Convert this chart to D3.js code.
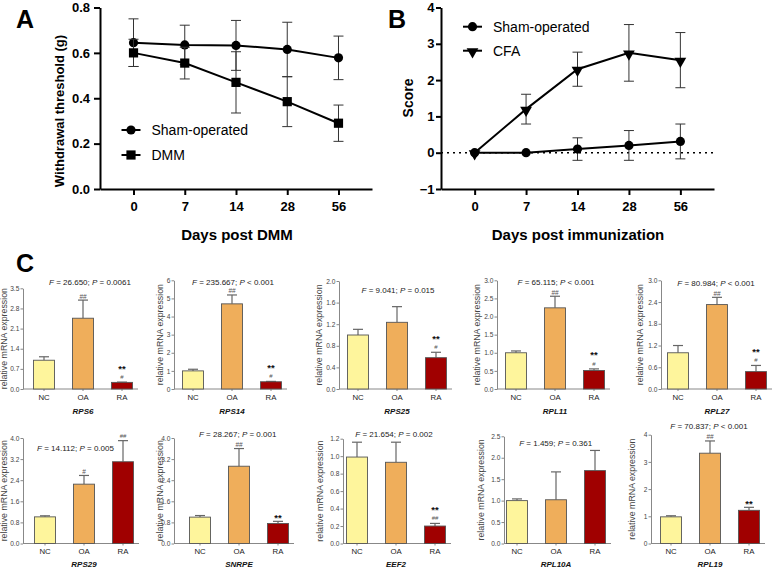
<!DOCTYPE html>
<html><head><meta charset="utf-8">
<script src="https://cdn.jsdelivr.net/npm/d3@7"></script>
<style>body{margin:0;background:#fff} svg{display:block;font-family:"Liberation Sans",Arial,sans-serif}</style>
</head><body><svg id="c" width="777" height="569"></svg>
<script>
// ---------- Panel A ----------
const days = ["0","7","14","28","56"];
const shamA = [0.645,0.635,0.633,0.615,0.578];
const shamAErr = [0.105,0.087,0.11,0.12,0.096];
const dmmA = [0.600,0.555,0.470,0.385,0.290];
const dmmAErr = [0.06,0.07,0.135,0.11,0.08];
const yTicksA = [0,0.2,0.4,0.6,0.8];
// ---------- Panel B ----------
const shamB = [0,0,0.1,0.2,0.31];
const shamBErr = [0,0,0.31,0.41,0.48];
const cfaB = [0,1.2,2.3,2.75,2.55];
const cfaBErr = [0,0.41,0.47,0.78,0.76];
const yTicksB = [-1,0,1,2,3,4];
// ---------- Panel C ----------
const groups = ["NC","OA","RA"];
const genes = ["RPS6","RPS14","RPS25","RPL11","RPL27","RPS29","SNRPE","EEF2","RPL10A","RPL19"];
const ncMean = [1.0,1.0,1.0,1.0,1.0,1.01,1.0,0.99,1.0,0.98];
const oaMean = [2.46,4.70,1.235,2.24,2.33,2.25,2.93,0.93,1.02,3.32];
const raMean = [0.23,0.40,0.58,0.51,0.48,3.10,0.76,0.20,1.70,1.22];
const ncErr = [0.12,0.09,0.105,0.05,0.2,0.04,0.06,0.17,0.04,0.04];
const oaErr = [0.63,0.49,0.29,0.32,0.2,0.33,0.67,0.23,0.65,0.45];
const raErr = [0.01,0.02,0.1,0.045,0.17,0.8,0.08,0.03,0.47,0.11];
const yMax = [3.5,6,2.0,3.0,3.0,4.0,4.0,1.2,2.5,4];
const yStep = [0.7,1,0.4,0.5,0.6,0.8,0.8,0.2,0.5,1];
const tickDec = [1,0,1,1,1,1,1,1,1,0];
const fStat = ["26.650","235.667","9.041","65.115","80.984","14.112","28.267","21.654","1.459","70.837"];
const pStat = ["= 0.0061","< 0.001","= 0.015","< 0.001","< 0.001","= 0.005","= 0.001","= 0.002","= 0.361","< 0.001"];
const oaHash = ["##","##","","##","##","#","##","","","##"];
const raStar = ["**","**","**","**","**","","**","**","","**"];
const raHash = ["#","#","#","#","#","##","","##","",""];
const barColors = ["#FEF59C","#EFAE5B","#A00000"];

const svg = d3.select("#c");

// ---------- line panels ----------
function linePanel(o) {
  const g = svg.append("g");
  const x = d3.scalePoint().domain(days).range([o.x0, o.x1]).padding(0.654);
  const y = d3.scaleLinear().domain(o.domain).range([189, 7.5]);
  const axB = g.append("g").attr("transform","translate(0,189)")
    .call(d3.axisBottom(x).tickSize(6).tickSizeOuter(0).tickPadding(6.5));
  const axL = g.append("g").attr("transform",`translate(${o.x0},0)`)
    .call(d3.axisLeft(y).tickValues(o.ticks).tickFormat(o.fmt).tickSize(o.tick).tickSizeOuter(0).tickPadding(o.pad));
  [axB, axL].forEach(a => {
    a.select(".domain").attr("stroke","#000").attr("stroke-width",2);
    a.selectAll(".tick line").attr("stroke","#000").attr("stroke-width",2);
    a.selectAll(".tick text").attr("fill","#000").style("font-size","13px").style("font-weight","bold");
  });
  if (o.zeroLine) {
    g.append("line").attr("x1",o.x0).attr("x2",o.x1).attr("y1",y(0)).attr("y2",y(0))
      .attr("stroke","#000").attr("stroke-width",1.5).attr("stroke-dasharray","2,4");
  }
  o.series.forEach(s => {
    s.vals.forEach((v,i) => {
      const e = s.err[i]; if (!e) return;
      const cx = x(days[i]);
      g.append("line").attr("x1",cx).attr("x2",cx).attr("y1",y(v-e)).attr("y2",y(v+e)).attr("stroke","#333").attr("stroke-width",1);
      [v-e, v+e].forEach(t => g.append("line").attr("x1",cx-5).attr("x2",cx+5).attr("y1",y(t)).attr("y2",y(t)).attr("stroke","#333").attr("stroke-width",1));
    });
    g.append("path").datum(s.vals).attr("fill","none").attr("stroke","#000").attr("stroke-width",2)
      .attr("d", d3.line().x((d,i)=>x(days[i])).y(d=>y(d)));
    s.vals.forEach((v,i) => marker(g, s.shape, x(days[i]), y(v)));
  });
  o.series.forEach((s,k) => {
    const ly = o.legY + k*o.legDy;
    g.append("line").attr("x1",o.legX).attr("x2",o.legX+19).attr("y1",ly).attr("y2",ly).attr("stroke","#000").attr("stroke-width",2);
    marker(g, s.shape, o.legX+9.5, ly);
    g.append("text").attr("x",o.legX+30).attr("y",ly+5).style("font-size","14px").text(s.name);
  });
  g.append("text").attr("x",o.xTitleX).attr("y",240).attr("text-anchor","middle")
    .style("font-size","15px").style("font-weight","bold").text(o.xTitle);
  g.append("text").attr("transform",`translate(${o.yTitleX},${o.yTitleY}) rotate(-90)`).attr("text-anchor","middle")
    .style("font-size",o.yTitleSize).style("font-weight","bold").text(o.yTitle);
  g.append("text").attr("x",o.letterX).attr("y",28).style("font-size","25px").style("font-weight","bold").text(o.letter);
}
function marker(g, shape, cx, cy) {
  if (shape === "circle") g.append("circle").attr("cx",cx).attr("cy",cy).attr("r",4.6).attr("fill","#000");
  else if (shape === "square") g.append("rect").attr("x",cx-4.6).attr("y",cy-4.6).attr("width",9.2).attr("height",9.2).attr("fill","#000");
  else g.append("path").attr("transform",`translate(${cx},${cy+1}) rotate(180)`).attr("d", d3.symbol(d3.symbolTriangle, 60)()).attr("fill","#000");
}

linePanel({x0:100, x1:372, domain:[0,0.8], ticks:yTicksA, fmt:d3.format(".1f"), tick:6, pad:4,
  series:[{name:"Sham-operated", vals:shamA, err:shamAErr, shape:"circle"},
          {name:"DMM", vals:dmmA, err:dmmAErr, shape:"square"}],
  legX:121.5, legY:130, legDy:25, xTitle:"Days post DMM", xTitleX:237,
  yTitle:"Withdrawal threshold (g)", yTitleX:64, yTitleY:111, yTitleSize:"13px", letter:"A", letterX:16});
linePanel({x0:441, x1:714, domain:[-1,4], ticks:yTicksB, fmt:d3.format("d"), tick:5, pad:1.5, zeroLine:true,
  series:[{name:"Sham-operated", vals:shamB, err:shamBErr, shape:"circle"},
          {name:"CFA", vals:cfaB, err:cfaBErr, shape:"tri"}],
  legX:463, legY:26.7, legDy:24, xTitle:"Days post immunization", xTitleX:578,
  yTitle:"Score", yTitleX:412.5, yTitleY:98, yTitleSize:"14px", letter:"B", letterX:388});

svg.append("text").attr("x",16).attr("y",272).style("font-size","25px").style("font-weight","bold").text("C");

// ---------- bar panels ----------
const axisX = [23,174,339,497,661,23,174,343,504,651];
const firstOff = [21,19,19,19,17,22,26,14,13,20];
const plotTop = [288.3,280.3,281,280.3,280.3,438,438,438.7,436.3,434.7];
const yLabX = [5,161,320,478,640.7,5,161,320.7,482,632.7];
const fX = [90,233,398,556,716,75.5,237.7,394,555.7,709];
const fY = [285,285,293,285,285.5,450.5,436.5,436.5,446,428.5];

function barPanel(i) {
  const row = i < 5 ? 0 : 1;
  const ax = axisX[i], top = plotTop[i], bot = row ? 543.5 : 389;
  const c0 = ax + firstOff[i];
  const x = d3.scaleBand().domain(groups).range([c0-19.5, c0+97.5]).paddingInner(0.46).paddingOuter(0.23);
  const y = d3.scaleLinear().domain([0, yMax[i]]).range([bot, top]);
  const g = svg.append("g");
  const ticks = d3.range(0, yMax[i] + yStep[i]/2, yStep[i]);
  const ay = g.append("g").attr("transform",`translate(${ax},0)`)
    .call(d3.axisLeft(y).tickValues(ticks).tickFormat(d3.format(`.${tickDec[i]}f`)).tickSize(2.5).tickSizeOuter(0).tickPadding(1.2));
  ay.select(".domain").attr("stroke","#888");
  ay.selectAll(".tick line").attr("stroke","#888");
  ay.selectAll(".tick text").attr("fill","#444").style("font-size","6.6px");
  const axb = g.append("g").attr("transform",`translate(0,${bot})`)
    .call(d3.axisBottom(x).tickSize(2).tickSizeOuter(0).tickPadding(3));
  axb.select(".domain").remove();
  axb.selectAll(".tick line").attr("stroke","#888");
  axb.selectAll(".tick text").attr("fill","#222").style("font-size","7.8px");
  g.append("line").attr("x1",ax).attr("x2",c0+2*39+16).attr("y1",bot).attr("y2",bot).attr("stroke","#888");

  const means = [ncMean[i], oaMean[i], raMean[i]];
  const errs = [ncErr[i], oaErr[i], raErr[i]];
  groups.forEach((gr, j) => {
    const v = means[j], e = errs[j];
    const cx = x(gr) + x.bandwidth()/2;
    g.append("line").attr("x1",cx).attr("x2",cx).attr("y1",y(v)).attr("y2",y(v+e)).attr("stroke","#666").attr("stroke-width",1.2);
    g.append("line").attr("x1",cx-5).attr("x2",cx+5).attr("y1",y(v+e)).attr("y2",y(v+e)).attr("stroke","#666").attr("stroke-width",1.2);
    g.append("rect").attr("x",x(gr)).attr("y",y(v)).attr("width",x.bandwidth()).attr("height",y(0)-y(v))
      .attr("fill",barColors[j]).attr("stroke","#555").attr("stroke-width",0.9);
    const capY = y(v+e);
    if (j === 1 && oaHash[i]) {
      g.append("text").attr("x",cx).attr("y",capY-1.5).attr("text-anchor","middle").attr("fill","#555").style("font-size","6.5px").text(oaHash[i]);
    }
    if (j === 2) {
      if (raHash[i]) g.append("text").attr("x",cx).attr("y",capY-3).attr("text-anchor","middle").attr("fill","#555").style("font-size","6px").text(raHash[i]);
      if (raStar[i]) g.append("text").attr("x",cx).attr("y",raHash[i] ? capY-10.5 : capY-0.5).attr("text-anchor","middle").attr("fill","#111")
        .style("font-size","9.5px").style("font-weight","bold").text(raStar[i]);
    }
  });
  g.append("text").attr("transform",`translate(${yLabX[i]+2.3},${(top+bot)/2}) rotate(-90)`).attr("text-anchor","middle")
    .attr("fill","#444").style("font-size","8.8px").text("relative mRNA expression");
  g.append("text").attr("x",x("OA")+x.bandwidth()/2).attr("y",row ? 567 : 413.5).attr("text-anchor","middle")
    .style("font-size","8px").style("font-weight","bold").style("font-style","italic").attr("fill","#111").text(genes[i]);
  const t = g.append("text").attr("x",fX[i]).attr("y",fY[i]).attr("text-anchor","middle").attr("fill","#222").style("font-size","8px");
  t.append("tspan").style("font-style","italic").text("F");
  t.append("tspan").text(` = ${fStat[i]}; `);
  t.append("tspan").style("font-style","italic").text("P");
  t.append("tspan").text(` ${pStat[i]}`);
}
genes.forEach((_, i) => barPanel(i));
</script></body></html>
